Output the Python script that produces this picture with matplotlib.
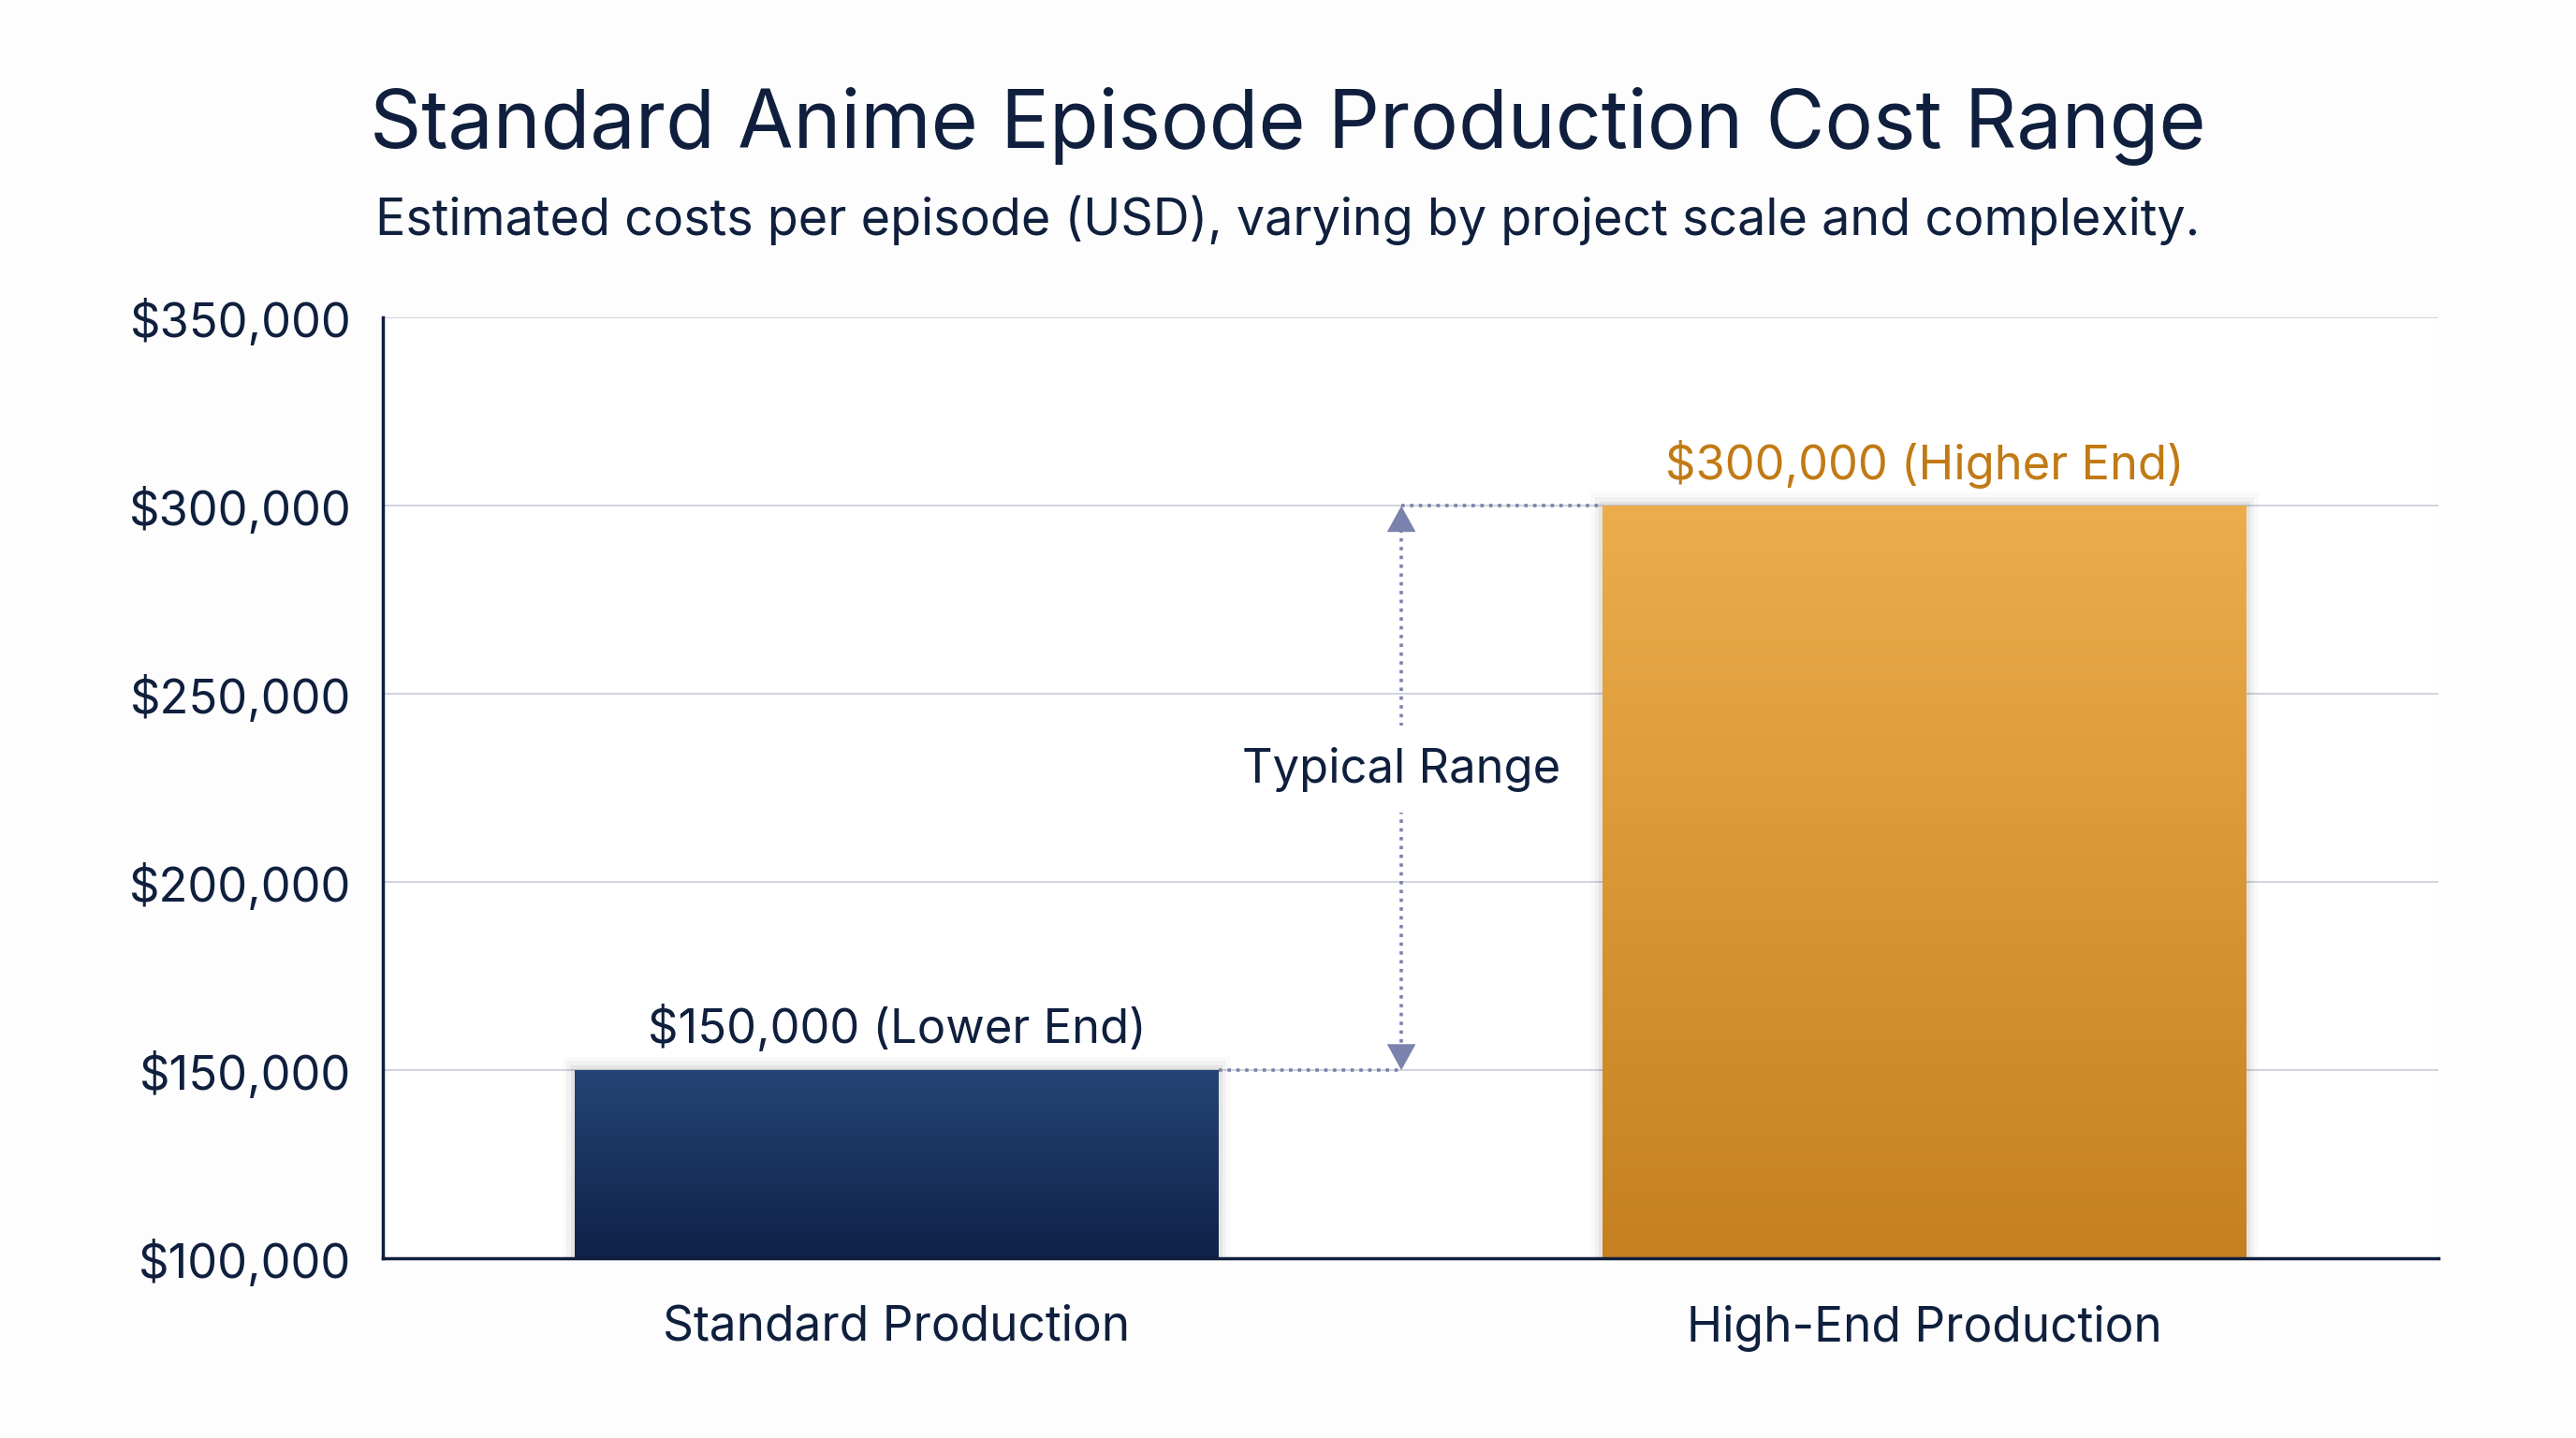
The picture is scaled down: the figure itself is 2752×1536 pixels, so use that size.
import numpy as np
import matplotlib.pyplot as plt
from matplotlib.ticker import FuncFormatter

plt.rcParams['font.family'] = ['Inter', 'DejaVu Sans']

categories = ['Standard Production', 'High-End Production']
costs = [150000, 300000]
bar_labels = ['$150,000 (Lower End)', '$300,000 (Higher End)']
label_colors = ['#0F1F3D', '#C17A14']
grad_top = ['#254475', '#EDAD4C']
grad_bottom = ['#0F2248', '#C6801F']
y_ticks = [100000, 150000, 200000, 250000, 300000, 350000]

navy = '#0F1F3D'
arrow_col = '#7A82AD'

fig = plt.figure(figsize=(27.52, 15.36), dpi=100, facecolor='#FDFDFD')
ax = fig.add_axes([0.1486, 0.125, 0.798, 0.654])
ax.set_facecolor('#FFFFFF')

x = np.arange(len(categories))
bars = ax.bar(x, costs, width=0.626, bottom=0, color='none', zorder=3)

# gradient fill inside each bar
for i, b in enumerate(bars):
    x0, w = b.get_x(), b.get_width()
    top = b.get_height()
    c1 = np.array(plt.matplotlib.colors.to_rgb(grad_top[i]))
    c2 = np.array(plt.matplotlib.colors.to_rgb(grad_bottom[i]))
    t = np.linspace(0, 1, 256)[:, None]
    img = (c1 * (1 - t) + c2 * t)[:, None, :]
    # soft shadow
    for k, a in enumerate([0.05, 0.035, 0.02]):
        ax.add_patch(plt.Rectangle((x0 - 0.004 * (k + 1), 100000), w + 0.008 * (k + 1),
                                   top - 100000 + 1200 * (k + 1), color='#000000',
                                   alpha=a, lw=0, zorder=2))
    ax.imshow(img, extent=[x0, x0 + w, 100000, top], aspect='auto', zorder=3,
              interpolation='bicubic')
    ax.text(x[i], top + 11000, bar_labels[i], ha='center', va='center',
            fontsize=36.5, color=label_colors[i], zorder=5)

ax.set_xlim(-0.5, 1.5)
ax.set_ylim(100000, 350000)

# range annotation
ax_x = 0.491
dots = (0, (1, 1.6))
ax.plot([bars[0].get_x() + bars[0].get_width(), ax_x], [costs[0], costs[0]],
        ls=dots, color=arrow_col, lw=2.6, zorder=4)
ax.plot([ax_x, bars[1].get_x()], [costs[1], costs[1]],
        ls=dots, color=arrow_col, lw=2.6, zorder=4)
ax.plot([ax_x, ax_x], [costs[0] + 5000, costs[1] - 5000],
        ls=dots, color=arrow_col, lw=2.6, zorder=4)
# solid arrow heads
for tip, tail in [(costs[1], costs[1] - 6000), (costs[0], costs[0] + 6000)]:
    ax.annotate('', xy=(ax_x, tip), xytext=(ax_x, tail),
                arrowprops=dict(arrowstyle='-|>,head_length=2.0,head_width=1.1',
                                color=arrow_col, lw=0.01, shrinkA=0, shrinkB=0),
                zorder=4)
ax.text(ax_x, 230000, 'Typical Range', ha='center', va='center', fontsize=36.5,
        color=navy, zorder=5,
        bbox=dict(boxstyle='square,pad=0.45', fc='white', ec='none'))

ax.set_yticks(y_ticks)
ax.yaxis.set_major_formatter(FuncFormatter(lambda v, p: f'${v:,.0f}'))
ax.set_xticks(x)
ax.set_xticklabels(categories)
ax.tick_params(axis='y', length=0, pad=24, labelsize=36.5, labelcolor=navy)
ax.tick_params(axis='x', length=0, pad=36, labelsize=37, labelcolor=navy)

ax.grid(axis='y', color='#C8CCD8', lw=1.2, zorder=1)
ax.set_axisbelow(True)
for s in ['top', 'right']:
    ax.spines[s].set_visible(False)
for s in ['left', 'bottom']:
    ax.spines[s].set_color(navy)
    ax.spines[s].set_linewidth(2.5)
    ax.spines[s].set_zorder(6)

fig.text(0.5, 0.912, 'Standard Anime Episode Production Cost Range', ha='center',
         va='center', fontsize=62, color=navy)
fig.text(0.5, 0.847, 'Estimated costs per episode (USD), varying by project scale and complexity.',
         ha='center', va='center', fontsize=38.8, color=navy)

fig.savefig('out.png', dpi=100, facecolor=fig.get_facecolor())
